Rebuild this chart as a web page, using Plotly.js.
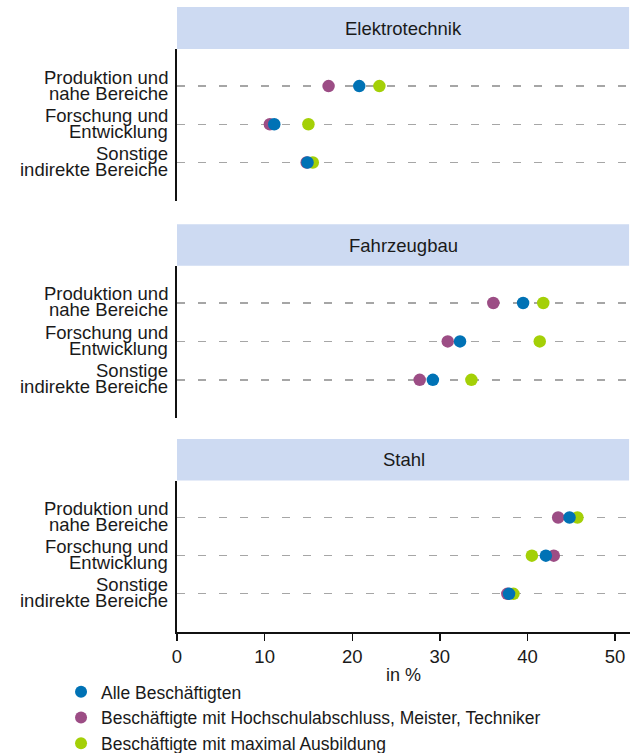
<!DOCTYPE html>
<html>
<head>
<meta charset="utf-8">
<script src="https://cdn.plot.ly/plotly-3.0.1.min.js"></script>
<style>
  html, body { margin: 0; padding: 0; background: #fff; }
  #chart { width: 642px; height: 753px; }
</style>
</head>
<body>
<div id="chart"></div>
<script>
// ---- Data ----
const sectors = ["Elektrotechnik", "Fahrzeugbau", "Stahl"];
const categories = ["Produktion und nahe Bereiche", "Forschung und Entwicklung", "Sonstige indirekte Bereiche"];
const labelLine1 = ["Produktion und", "Forschung und", "Sonstige"];
const labelLine2 = ["nahe Bereiche", "Entwicklung", "indirekte Bereiche"];
const seriesNames = [
  "Alle Beschäftigten",
  "Beschäftigte mit Hochschulabschluss, Meister, Techniker",
  "Beschäftigte mit maximal Ausbildung"
];
// values per sector: [Produktion, Forschung, Sonstige]
const alleValues = [
  [20.8, 11.1, 14.9],
  [39.5, 32.3, 29.2],
  [44.8, 42.1, 37.9]
];
const hochschulValues = [
  [17.3, 10.6, 14.8],
  [36.1, 30.9, 27.7],
  [43.5, 43.0, 37.7]
];
const ausbildungValues = [
  [23.1, 15.0, 15.5],
  [41.8, 41.4, 33.6],
  [45.7, 40.5, 38.4]
];
const xTicks = [0, 10, 20, 30, 40, 50];

// ---- Styles ----
const colors = ["#0072b5", "#9c4d85", "#a4d007"];
const FONT = "'Liberation Sans', Arial, Helvetica, sans-serif";
const TXT = "#1a1a1a";
const stripColor = "#cddaf2";

// panel geometry (paper coordinates)
const panelDomains = [[0.6901, 0.9328], [0.3419, 0.5861], [0.0, 0.2424]];
const stripDomains = [[0.9328, 1.0], [0.5861, 0.6523], [0.2424, 0.3088]];

const seriesValues = [alleValues, hochschulValues, ausbildungValues];
const drawOrder = [1, 2, 0]; // purple, green, blue on top
const traces = [];
sectors.forEach((s, si) => {
  const yname = si === 0 ? "y" : "y" + (si + 1);
  drawOrder.forEach(k => {
    traces.push({
      type: "scatter",
      mode: "markers",
      x: seriesValues[k][si],
      y: categories,
      xaxis: "x",
      yaxis: yname,
      name: seriesNames[k],
      legendgroup: "g" + k,
      legendrank: k + 1,
      showlegend: si === 0,
      marker: { color: colors[k], size: 12.5, line: { width: 0 } },
      hoverinfo: "skip"
    });
  });
});

const shapes = [];
const annotations = [];
sectors.forEach((s, si) => {
  shapes.push({
    type: "rect", xref: "paper", yref: "paper",
    x0: 0, x1: 0.998, y0: stripDomains[si][0], y1: stripDomains[si][1],
    fillcolor: stripColor, line: { width: 0 }, layer: "below"
  });
  annotations.push({
    xref: "paper", yref: "paper", x: 0.5,
    y: (stripDomains[si][0] + stripDomains[si][1]) / 2,
    text: s, showarrow: false, xanchor: "center", yanchor: "middle",
    font: { family: FONT, size: 18.5, color: TXT }
  });
  const yref = si === 0 ? "y" : "y" + (si + 1);
  categories.forEach((c, ci) => {
    annotations.push({
      xref: "paper", yref: yref, x: 0, y: c, xanchor: "right", yanchor: "middle",
      xshift: -7, yshift: 9, text: labelLine1[ci], showarrow: false,
      font: { family: FONT, size: 18.5, color: TXT }
    });
    annotations.push({
      xref: "paper", yref: yref, x: 0, y: c, xanchor: "right", yanchor: "middle",
      xshift: -7, yshift: -7, text: labelLine2[ci], showarrow: false,
      font: { family: FONT, size: 18.5, color: TXT }
    });
  });
});

function yAxis(si) {
  return {
    domain: panelDomains[si],
    anchor: "x",
    type: "category",
    categoryorder: "array",
    categoryarray: categories,
    range: [3.0, -0.97],
    showticklabels: false,
    ticks: "",
    showgrid: true,
    gridcolor: "#a6a6a6",
    gridwidth: 1.3,
    griddash: "8px,13px",
    showline: true,
    linecolor: "#111",
    linewidth: 1.6,
    zeroline: false,
    fixedrange: true
  };
}

const layout = {
  width: 642,
  height: 753,
  margin: { l: 177, r: 12, t: 7, b: 121, autoexpand: false },
  paper_bgcolor: "#fff",
  plot_bgcolor: "rgba(0,0,0,0)",
  font: { family: FONT, size: 18, color: TXT },
  showlegend: true,
  legend: {
    orientation: "v",
    x: -0.256, xanchor: "left",
    y: -0.067, yanchor: "top",
    font: { family: FONT, size: 17.5, color: TXT },
    itemsizing: "constant",
    bgcolor: "rgba(0,0,0,0)",
    traceorder: "normal"
  },
  xaxis: {
    anchor: "y3",
    range: [0, 51.7],
    tickvals: xTicks,
    ticktext: xTicks.map(String),
    ticks: "outside",
    ticklen: 7,
    tickwidth: 1.3,
    tickcolor: "#111",
    showline: true,
    linecolor: "#111",
    linewidth: 1.6,
    showgrid: false,
    zeroline: false,
    tickfont: { family: FONT, size: 18.5, color: TXT },
    title: { text: "in %", font: { family: FONT, size: 18, color: TXT }, standoff: 2 },
    fixedrange: true
  },
  yaxis: yAxis(0),
  yaxis2: yAxis(1),
  yaxis3: yAxis(2),
  shapes: shapes,
  annotations: annotations,
  hovermode: false
};

Plotly.newPlot("chart", traces, layout, { staticPlot: true, displayModeBar: false });
</script>
</body>
</html>
